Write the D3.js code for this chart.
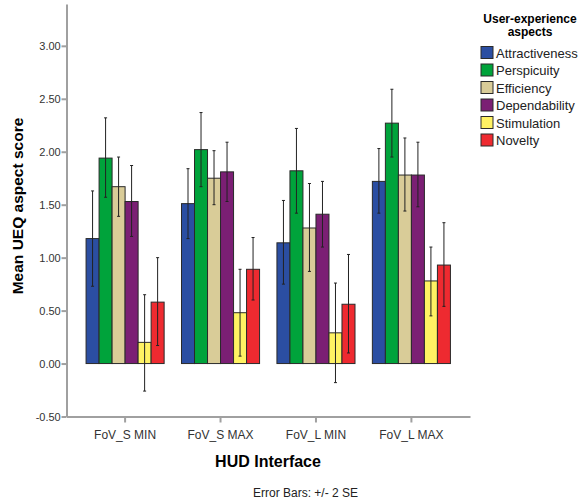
<!DOCTYPE html>
<meta charset="utf-8">
<style>
body { margin: 0; background: #fff; font-family: "Liberation Sans", Arial, sans-serif; }
.axis path, .axis line { stroke: #a0a0a0; stroke-width: 2px; }
.axis text { fill: #333; font-size: 11px; }
.bar { stroke: #2a2a2a; stroke-width: 1px; }
.err { stroke: #222; stroke-width: 1px; }
</style>
<body>
<script src="https://d3js.org/d3.v7.min.js"></script>
<script>

// categories, series and values
var interfaces = ["FoV_S MIN", "FoV_S MAX", "FoV_L MIN", "FoV_L MAX"];
var aspects = ["Attractiveness", "Perspicuity", "Efficiency", "Dependability", "Stimulation", "Novelty"];
var colours = ["#2b4ea2", "#00a33b", "#d9cc98", "#7b1f74", "#fff263", "#ee2a30"];

// mean per aspect, one entry per interface
var means = {
  "Attractiveness": [1.18, 1.51, 1.14, 1.72],
  "Perspicuity":    [1.94, 2.02, 1.82, 2.27],
  "Efficiency":     [1.67, 1.75, 1.28, 1.78],
  "Dependability":  [1.53, 1.81, 1.41, 1.78],
  "Stimulation":    [0.20, 0.48, 0.29, 0.78],
  "Novelty":        [0.58, 0.89, 0.56, 0.93]
};
// error bar ends (+/- 2 SE)
var errLow = {
  "Attractiveness": [0.73, 1.18, 0.75, 1.42],
  "Perspicuity":    [1.57, 1.67, 1.42, 1.95],
  "Efficiency":     [1.39, 1.50, 0.87, 1.44],
  "Dependability":  [1.20, 1.53, 1.10, 1.48],
  "Stimulation":    [-0.26, 0.07, -0.18, 0.45],
  "Novelty":        [0.17, 0.60, 0.10, 0.54]
};
var errHigh = {
  "Attractiveness": [1.63, 1.84, 1.54, 2.03],
  "Perspicuity":    [2.32, 2.37, 2.22, 2.59],
  "Efficiency":     [1.95, 2.01, 1.70, 2.13],
  "Dependability":  [1.87, 2.09, 1.72, 2.09],
  "Stimulation":    [0.65, 0.89, 0.76, 1.10],
  "Novelty":        [1.00, 1.19, 1.03, 1.33]
};
var yTicks = [-0.5, 0, 0.5, 1, 1.5, 2, 2.5, 3];

var W = 584, H = 502;
var plotLeft = 66.5, plotRight = 470, plotTop = 4, plotBottom = 416.5;

var svg = d3.select("body").append("svg")
    .attr("width", W)
    .attr("height", H);

var x0 = d3.scaleBand()
    .domain(interfaces)
    .range([plotLeft, plotRight])
    .paddingInner(0.182)
    .paddingOuter(0.205);

var x1 = d3.scaleBand()
    .domain(aspects)
    .range([0, x0.bandwidth()]);

var y = d3.scaleLinear()
    .domain([-0.5, 3.395])
    .range([plotBottom, plotTop]);

var colour = d3.scaleOrdinal().domain(aspects).range(colours);

// flatten into rows for drawing
var rows = [];
interfaces.forEach(function(g, i) {
  aspects.forEach(function(a) {
    rows.push({ group: g, aspect: a, mean: means[a][i], lo: errLow[a][i], hi: errHigh[a][i] });
  });
});

// bars
svg.append("g").selectAll("rect")
    .data(rows)
    .enter().append("rect")
    .attr("class", "bar")
    .attr("x", function(d) { return x0(d.group) + x1(d.aspect); })
    .attr("y", function(d) { return y(d.mean); })
    .attr("width", x1.bandwidth())
    .attr("height", function(d) { return y(0) - y(d.mean); })
    .style("fill", function(d) { return colour(d.aspect); });

// error bars
var eb = svg.append("g").selectAll("g")
    .data(rows)
    .enter().append("g")
    .attr("transform", function(d) { return "translate(" + (x0(d.group) + x1(d.aspect) + x1.bandwidth() / 2) + ",0)"; });
eb.append("line").attr("class", "err")
    .attr("x1", 0).attr("x2", 0)
    .attr("y1", function(d) { return y(d.lo); })
    .attr("y2", function(d) { return y(d.hi); });
eb.append("line").attr("class", "err")
    .attr("x1", -1.5).attr("x2", 1.5)
    .attr("y1", function(d) { return y(d.lo); })
    .attr("y2", function(d) { return y(d.lo); });
eb.append("line").attr("class", "err")
    .attr("x1", -1.5).attr("x2", 1.5)
    .attr("y1", function(d) { return y(d.hi); })
    .attr("y2", function(d) { return y(d.hi); });

// y axis (plain hyphen for negatives, like the original)
svg.append("g")
    .attr("class", "axis")
    .attr("transform", "translate(" + plotLeft + ",0)")
    .call(d3.axisLeft(y).tickValues(yTicks).tickSize(5).tickSizeOuter(0)
      .tickFormat(function(d) { return d.toFixed(2); }))
    .call(function(g) { g.selectAll("text").attr("dx", "0.2em"); });

// x axis
svg.append("g")
    .attr("class", "axis")
    .attr("transform", "translate(0," + plotBottom + ")")
    .call(d3.axisBottom(x0).tickSize(6).tickSizeOuter(0))
    .call(function(g) {
      g.selectAll("text").style("font-size", "12px").attr("dy", "1.1em");
    });

// axis titles
svg.append("text")
    .attr("transform", "translate(23,206) rotate(-90)")
    .attr("text-anchor", "middle")
    .style("font-size", "15.5px")
    .style("font-weight", "bold")
    .text("Mean UEQ aspect score");

svg.append("text")
    .attr("x", 268)
    .attr("y", 467)
    .attr("text-anchor", "middle")
    .style("font-size", "16px")
    .style("font-weight", "bold")
    .text("HUD Interface");

svg.append("text")
    .attr("x", 253)
    .attr("y", 497)
    .style("font-size", "12px")
    .style("fill", "#222")
    .text("Error Bars: +/- 2 SE");

// legend
var legend = svg.append("g").attr("transform", "translate(480,0)");
legend.append("text")
    .attr("x", 50).attr("y", 23)
    .attr("text-anchor", "middle")
    .style("font-size", "12px").style("font-weight", "bold")
    .text("User-experience");
legend.append("text")
    .attr("x", 50).attr("y", 36)
    .attr("text-anchor", "middle")
    .style("font-size", "12px").style("font-weight", "bold")
    .text("aspects");

var item = legend.selectAll(".item")
    .data(aspects)
    .enter().append("g")
    .attr("transform", function(d, i) { return "translate(0," + (46 + i * 17.5) + ")"; });
item.append("rect")
    .attr("class", "bar")
    .attr("x", 1).attr("y", 0.5)
    .attr("width", 12).attr("height", 12)
    .style("fill", function(d) { return colour(d); });
item.append("text")
    .attr("x", 16).attr("y", 11.5)
    .style("font-size", "13px")
    .style("fill", "#222")
    .text(function(d) { return d; });

</script>
</body>
